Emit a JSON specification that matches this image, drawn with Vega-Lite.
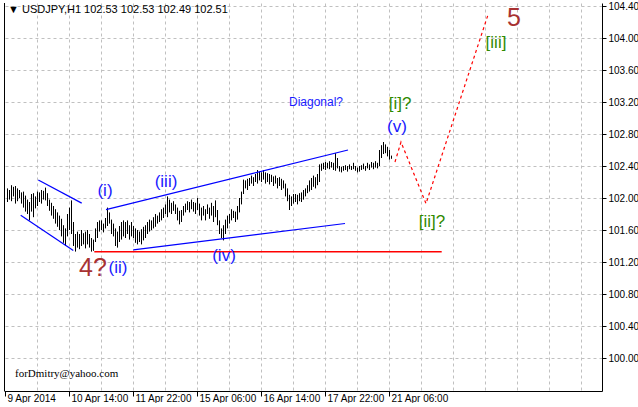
{
"$schema": "https://vega.github.io/schema/vega-lite/v6.json",
"width": 598, "height": 388,
"autosize": {"type": "pad"},
"padding": {"left": 4, "top": 0, "right": 0, "bottom": 0},
"background": "white",
"config": {"view": {"stroke": null}},
"datasets": {
"bars": [
{"i":1,"p":101.95,"p2":102.12},{"i":2,"p":101.98,"p2":102.10},{"i":3,"p":101.96,"p2":102.16},{"i":4,"p":102.02,"p2":102.14},{"i":5,"p":101.93,"p2":102.15},{"i":6,"p":101.96,"p2":102.12},{"i":7,"p":102.00,"p2":102.10},{"i":8,"p":101.93,"p2":102.07},{"i":9,"p":101.88,"p2":102.08},{"i":10,"p":101.83,"p2":102.03},
{"i":11,"p":101.80,"p2":101.98},{"i":12,"p":101.72,"p2":101.95},{"i":13,"p":101.83,"p2":102.05},{"i":14,"p":101.76,"p2":102.06},{"i":15,"p":101.87,"p2":102.02},{"i":16,"p":101.90,"p2":102.08},{"i":17,"p":101.95,"p2":102.07},{"i":18,"p":101.93,"p2":102.10},{"i":19,"p":101.98,"p2":102.09},{"i":20,"p":101.97,"p2":102.13},
{"i":21,"p":101.90,"p2":102.06},{"i":22,"p":101.84,"p2":101.98},{"i":23,"p":101.78,"p2":101.94},{"i":24,"p":101.74,"p2":101.90},{"i":25,"p":101.68,"p2":101.86},{"i":26,"p":101.64,"p2":101.82},{"i":27,"p":101.60,"p2":101.78},{"i":28,"p":101.52,"p2":101.74},{"i":29,"p":101.44,"p2":101.66},{"i":30,"p":101.40,"p2":101.62},
{"i":31,"p":101.52,"p2":101.80},{"i":32,"p":101.60,"p2":101.88},{"i":33,"p":101.55,"p2":101.97},{"i":34,"p":101.40,"p2":101.70},{"i":35,"p":101.33,"p2":101.55},{"i":36,"p":101.38,"p2":101.58},{"i":37,"p":101.36,"p2":101.55},{"i":38,"p":101.40,"p2":101.60},{"i":39,"p":101.42,"p2":101.56},{"i":40,"p":101.37,"p2":101.58},
{"i":41,"p":101.42,"p2":101.60},{"i":42,"p":101.38,"p2":101.55},{"i":43,"p":101.33,"p2":101.50},{"i":44,"p":101.34,"p2":101.48},{"i":45,"p":101.45,"p2":101.62},{"i":46,"p":101.50,"p2":101.70},{"i":47,"p":101.58,"p2":101.72},{"i":48,"p":101.60,"p2":101.72},{"i":49,"p":101.57,"p2":101.68},{"i":50,"p":101.62,"p2":101.75},
{"i":51,"p":101.65,"p2":101.88},{"i":52,"p":101.68,"p2":101.82},{"i":53,"p":101.55,"p2":101.73},{"i":54,"p":101.52,"p2":101.68},{"i":55,"p":101.40,"p2":101.62},{"i":56,"p":101.38,"p2":101.58},{"i":57,"p":101.45,"p2":101.65},{"i":58,"p":101.48,"p2":101.70},{"i":59,"p":101.52,"p2":101.72},{"i":60,"p":101.50,"p2":101.70},
{"i":61,"p":101.55,"p2":101.72},{"i":62,"p":101.48,"p2":101.66},{"i":63,"p":101.52,"p2":101.70},{"i":64,"p":101.50,"p2":101.65},{"i":65,"p":101.44,"p2":101.62},{"i":66,"p":101.42,"p2":101.60},{"i":67,"p":101.45,"p2":101.58},{"i":68,"p":101.42,"p2":101.61},{"i":69,"p":101.47,"p2":101.64},{"i":70,"p":101.50,"p2":101.66},
{"i":71,"p":101.55,"p2":101.70},{"i":72,"p":101.58,"p2":101.73},{"i":73,"p":101.60,"p2":101.72},{"i":74,"p":101.62,"p2":101.76},{"i":75,"p":101.64,"p2":101.80},{"i":76,"p":101.68,"p2":101.78},{"i":77,"p":101.70,"p2":101.82},{"i":78,"p":101.72,"p2":101.86},{"i":79,"p":101.75,"p2":101.88},{"i":80,"p":101.80,"p2":101.92},
{"i":81,"p":101.76,"p2":102.02},{"i":82,"p":101.82,"p2":101.98},{"i":83,"p":101.80,"p2":101.94},{"i":84,"p":101.84,"p2":101.96},{"i":85,"p":101.80,"p2":101.92},{"i":86,"p":101.72,"p2":101.88},{"i":87,"p":101.67,"p2":101.84},{"i":88,"p":101.70,"p2":101.85},{"i":89,"p":101.78,"p2":101.90},{"i":90,"p":101.82,"p2":101.93},
{"i":91,"p":101.85,"p2":101.96},{"i":92,"p":101.82,"p2":101.95},{"i":93,"p":101.86,"p2":101.98},{"i":94,"p":101.83,"p2":101.95},{"i":95,"p":101.80,"p2":101.94},{"i":96,"p":101.85,"p2":102.00},{"i":97,"p":101.78,"p2":101.93},{"i":98,"p":101.72,"p2":101.88},{"i":99,"p":101.78,"p2":101.90},{"i":100,"p":101.72,"p2":101.86},
{"i":101,"p":101.80,"p2":101.92},{"i":102,"p":101.74,"p2":101.88},{"i":103,"p":101.78,"p2":101.94},{"i":104,"p":101.70,"p2":101.90},{"i":105,"p":101.76,"p2":101.97},{"i":106,"p":101.66,"p2":101.85},{"i":107,"p":101.55,"p2":101.72},{"i":108,"p":101.50,"p2":101.62},{"i":109,"p":101.47,"p2":101.66},{"i":110,"p":101.55,"p2":101.73},
{"i":111,"p":101.62,"p2":101.78},{"i":112,"p":101.68,"p2":101.80},{"i":113,"p":101.72,"p2":101.86},{"i":114,"p":101.75,"p2":101.84},{"i":115,"p":101.70,"p2":101.83},{"i":116,"p":101.73,"p2":101.90},{"i":117,"p":101.82,"p2":102.00},{"i":118,"p":101.92,"p2":102.08},{"i":119,"p":102.05,"p2":102.23},{"i":120,"p":102.12,"p2":102.22},
{"i":121,"p":102.10,"p2":102.24},{"i":122,"p":102.15,"p2":102.25},{"i":123,"p":102.18,"p2":102.28},{"i":124,"p":102.15,"p2":102.26},{"i":125,"p":102.20,"p2":102.30},{"i":126,"p":102.18,"p2":102.35},{"i":127,"p":102.22,"p2":102.33},{"i":128,"p":102.20,"p2":102.32},{"i":129,"p":102.23,"p2":102.35},{"i":130,"p":102.18,"p2":102.32},
{"i":131,"p":102.20,"p2":102.31},{"i":132,"p":102.17,"p2":102.30},{"i":133,"p":102.20,"p2":102.29},{"i":134,"p":102.15,"p2":102.27},{"i":135,"p":102.18,"p2":102.28},{"i":136,"p":102.12,"p2":102.25},{"i":137,"p":102.15,"p2":102.26},{"i":138,"p":102.10,"p2":102.24},{"i":139,"p":102.12,"p2":102.22},{"i":140,"p":102.02,"p2":102.18},
{"i":141,"p":101.96,"p2":102.12},{"i":142,"p":101.85,"p2":102.04},{"i":143,"p":101.90,"p2":102.02},{"i":144,"p":101.93,"p2":102.05},{"i":145,"p":101.95,"p2":102.05},{"i":146,"p":101.92,"p2":102.04},{"i":147,"p":101.96,"p2":102.06},{"i":148,"p":101.95,"p2":102.07},{"i":149,"p":101.98,"p2":102.10},{"i":150,"p":102.02,"p2":102.12},
{"i":151,"p":102.06,"p2":102.16},{"i":152,"p":102.08,"p2":102.22},{"i":153,"p":102.10,"p2":102.25},{"i":154,"p":102.14,"p2":102.28},{"i":155,"p":102.12,"p2":102.26},{"i":156,"p":102.16,"p2":102.30},{"i":157,"p":102.20,"p2":102.42},{"i":158,"p":102.34,"p2":102.43},{"i":159,"p":102.36,"p2":102.44},{"i":160,"p":102.35,"p2":102.45},
{"i":161,"p":102.37,"p2":102.44},{"i":162,"p":102.36,"p2":102.46},{"i":163,"p":102.38,"p2":102.45},{"i":164,"p":102.35,"p2":102.44},{"i":165,"p":102.34,"p2":102.56},{"i":166,"p":102.37,"p2":102.50},{"i":167,"p":102.33,"p2":102.40},{"i":168,"p":102.32,"p2":102.39},{"i":169,"p":102.34,"p2":102.40},{"i":170,"p":102.35,"p2":102.41},
{"i":171,"p":102.33,"p2":102.40},{"i":172,"p":102.36,"p2":102.42},{"i":173,"p":102.35,"p2":102.40},{"i":174,"p":102.36,"p2":102.44},{"i":175,"p":102.34,"p2":102.40},{"i":176,"p":102.32,"p2":102.38},{"i":177,"p":102.33,"p2":102.40},{"i":178,"p":102.35,"p2":102.41},{"i":179,"p":102.36,"p2":102.43},{"i":180,"p":102.34,"p2":102.40},
{"i":181,"p":102.37,"p2":102.44},{"i":182,"p":102.35,"p2":102.42},{"i":183,"p":102.38,"p2":102.45},{"i":184,"p":102.36,"p2":102.44},{"i":185,"p":102.38,"p2":102.46},{"i":186,"p":102.37,"p2":102.44},{"i":187,"p":102.40,"p2":102.60},{"i":188,"p":102.50,"p2":102.66},{"i":189,"p":102.55,"p2":102.70},{"i":190,"p":102.56,"p2":102.67},
{"i":191,"p":102.52,"p2":102.64},{"i":192,"p":102.48,"p2":102.60},{"i":193,"p":102.49,"p2":102.53}
],
"blueLines": [
{"line":"a","i":16.65,"p":102.225},{"line":"a","i":38.35,"p":101.936},
{"line":"b","i":7.85,"p":101.784},{"line":"b","i":34.15,"p":101.343},
{"line":"c","i":50.5,"p":101.854},{"line":"c","i":171.5,"p":102.60},
{"line":"d","i":64.15,"p":101.352},{"line":"d","i":170,"p":101.681}
],
"redLine": [{"i":44.65,"p":101.327},{"i":218.35,"p":101.327}],
"redPath": [{"k":1,"i":195,"p":102.45},{"k":2,"i":198,"p":102.70},{"k":3,"i":210.5,"p":101.93},{"k":4,"i":241.5,"p":104.29}],
"leftEdge": [{"i":-0.5}],
"blueText": [
{"t":"(i)","i":50,"p":102.093},{"t":"(ii)","i":56.5,"p":101.13},{"t":"(iii)","i":80.5,"p":102.20},{"t":"(iv)","i":109.5,"p":101.278},{"t":"(v)","i":196,"p":102.89}
],
"diag": [{"t":"Diagonal?","i":155.5,"p":103.20}],
"greenText": [{"t":"[i]?","i":197.5,"p":103.175},{"t":"[ii]?","i":213.5,"p":101.698},{"t":"[iii]","i":245.5,"p":103.94}],
"redText": [{"t":"4?","i":44,"p":101.13},{"t":"5","i":254.5,"p":104.25}],
"email": [{"t":"forDmitry@yahoo.com","i":5,"p":99.80}],
"header": [{"t":"▼ USDJPY,H1  102.53 102.53 102.49 102.51","i":1.5,"p":104.35}]
},
"layer": [
{"data":{"name":"bars"},"mark":{"type":"rule","color":"black","strokeWidth":1,"xOffset":0.5},
 "encoding":{
  "x":{"field":"i","type":"quantitative","scale":{"domain":[-0.5,298.5],"nice":false,"zero":false},
   "axis":{"orient":"bottom","tickCount":100,"values":[0,16,32,48,64,80,96,112,128,144,160,176,192,208,224,240,256,272,288],
    "labelExpr":"datum.value==0?'9 Apr 2014':datum.value==32?'10 Apr 14:00':datum.value==64?'11 Apr 22:00':datum.value==96?'15 Apr 06:00':datum.value==128?'16 Apr 14:00':datum.value==160?'17 Apr 22:00':datum.value==192?'21 Apr 06:00':''",
    "labelAlign":"left","labelFont":"Liberation Sans","labelFontSize":10,"labelColor":"black","labelPadding":-3,"labelOffset":2,"labelFlush":false,"labelOverlap":false,
    "tickColor":"black","tickSize":5,
    "tickOpacity":{"condition":{"test":"datum.value <= 192 && datum.value % 32 == 0","value":1},"value":0},
    "domainColor":"black",
    "grid":true,"gridColor":"#c0c0c0","gridDash":[3,3],"gridWidth":1,
    "gridOpacity":{"condition":{"test":"datum.value == 0","value":0},"value":1},
    "title":null}},
  "y":{"field":"p","type":"quantitative","scale":{"domain":[99.5875,104.4375],"nice":false,"zero":false},
   "axis":{"orient":"right","tickCount":100,"values":[100,100.4,100.8,101.2,101.6,102,102.4,102.8,103.2,103.6,104,104.4],"format":".2f","grid":true,"gridColor":"#c0c0c0","gridDash":[3,3],"gridWidth":1,"tickColor":"black","tickSize":4,"domainColor":"black","labelFont":"Liberation Sans","labelFontSize":10,"labelColor":"black","labelPadding":2,"labelFlush":false,"labelOverlap":false,"labelBaseline":"middle","title":null}},
  "y2":{"field":"p2"}
 }},
{"data":{"name":"leftEdge"},"mark":{"type":"rule","color":"black","strokeWidth":1,"xOffset":0.5},
 "encoding":{"x":{"field":"i","type":"quantitative"}}},
{"data":{"name":"redLine"},"mark":{"type":"line","color":"#ff0000","strokeWidth":1.5},
 "encoding":{"x":{"field":"i","type":"quantitative"},"y":{"field":"p","type":"quantitative"}}},
{"data":{"name":"blueLines"},"mark":{"type":"line","color":"#0000ff","strokeWidth":1.2},
 "encoding":{"x":{"field":"i","type":"quantitative"},"y":{"field":"p","type":"quantitative"},"detail":{"field":"line"}}},
{"data":{"name":"redPath"},"mark":{"type":"line","color":"#ff0000","strokeWidth":1.2,"strokeDash":[3,3]},
 "encoding":{"x":{"field":"i","type":"quantitative"},"y":{"field":"p","type":"quantitative"},"order":{"field":"k"}}},
{"data":{"name":"blueText"},"mark":{"type":"text","color":"#1a1aff","font":"Liberation Sans","fontSize":17,"align":"center","baseline":"middle"},
 "encoding":{"x":{"field":"i","type":"quantitative"},"y":{"field":"p","type":"quantitative"},"text":{"field":"t"}}},
{"data":{"name":"diag"},"mark":{"type":"text","color":"#1a1aff","font":"Liberation Sans","fontSize":12,"align":"center","baseline":"middle"},
 "encoding":{"x":{"field":"i","type":"quantitative"},"y":{"field":"p","type":"quantitative"},"text":{"field":"t"}}},
{"data":{"name":"greenText"},"mark":{"type":"text","color":"#2f8a00","font":"Liberation Sans","fontSize":17,"align":"center","baseline":"middle"},
 "encoding":{"x":{"field":"i","type":"quantitative"},"y":{"field":"p","type":"quantitative"},"text":{"field":"t"}}},
{"data":{"name":"redText"},"mark":{"type":"text","color":"#a83232","font":"Liberation Sans","fontSize":25,"align":"center","baseline":"middle"},
 "encoding":{"x":{"field":"i","type":"quantitative"},"y":{"field":"p","type":"quantitative"},"text":{"field":"t"}}},
{"data":{"name":"email"},"mark":{"type":"text","color":"black","font":"Liberation Serif","fontSize":11,"align":"left","baseline":"middle"},
 "encoding":{"x":{"field":"i","type":"quantitative"},"y":{"field":"p","type":"quantitative"},"text":{"field":"t"}}},
{"data":{"name":"header"},"mark":{"type":"text","color":"black","font":"Liberation Sans","fontSize":11,"align":"left","baseline":"middle"},
 "encoding":{"x":{"field":"i","type":"quantitative"},"y":{"field":"p","type":"quantitative"},"text":{"field":"t"}}}
]
}
